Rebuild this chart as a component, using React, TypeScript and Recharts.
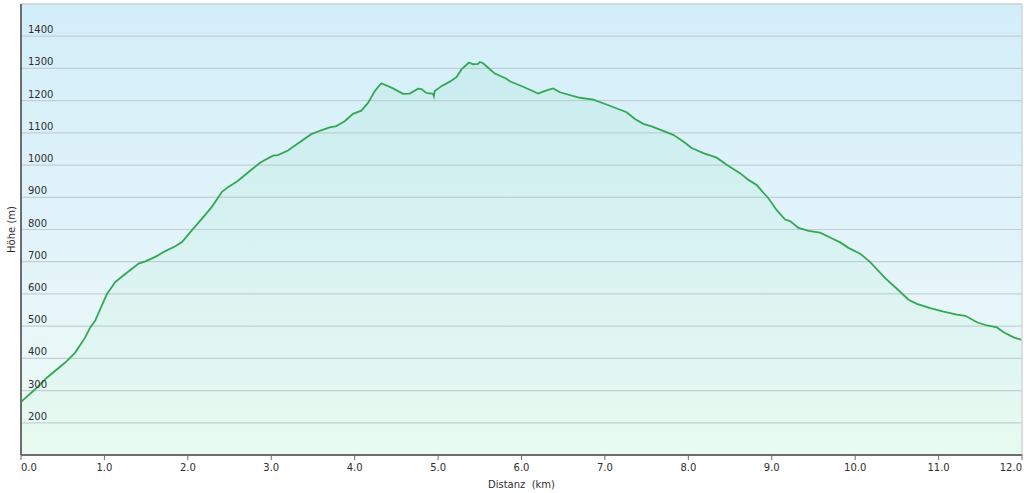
import React from 'react';
import { AreaChart, Area, XAxis, YAxis, CartesianGrid, ReferenceLine } from 'recharts';

const distanceKm = [
  0.0, 0.17, 0.31, 0.53, 0.65, 0.77, 0.83, 0.89, 1.03, 1.13, 1.23, 1.33, 1.41, 1.49, 1.61, 1.73, 1.85, 1.93,
  2.05, 2.17, 2.29, 2.41, 2.49, 2.59, 2.75, 2.87, 3.02, 3.08, 3.2, 3.34, 3.48, 3.6, 3.7, 3.78, 3.88, 3.98,
  4.08, 4.16, 4.24, 4.28, 4.32, 4.46, 4.58, 4.66, 4.76, 4.8, 4.86, 4.94, 4.95, 4.96, 5.04, 5.14, 5.22, 5.28,
  5.37, 5.42, 5.48, 5.5, 5.54, 5.6, 5.68, 5.82, 5.86, 6.02, 6.2, 6.3, 6.38, 6.46, 6.7, 6.86, 7.02, 7.26,
  7.36, 7.46, 7.56, 7.66, 7.82, 7.94, 8.04, 8.18, 8.34, 8.46, 8.62, 8.72, 8.82, 8.9, 8.96, 9.06, 9.16, 9.22,
  9.32, 9.44, 9.58, 9.7, 9.82, 9.92, 10.06, 10.18, 10.36, 10.5, 10.64, 10.74, 10.9, 11.06, 11.22, 11.32,
  11.46, 11.58, 11.7, 11.78, 11.9, 12.0,
];

const elevationM = [
  265, 304, 340, 387, 418, 465, 496, 517, 600, 637, 658, 678, 694, 701, 715, 733, 748, 761,
  798, 834, 871, 917, 933, 949, 983, 1008, 1029, 1031, 1045, 1071, 1096, 1108, 1117, 1121, 1136, 1159,
  1169, 1193, 1229, 1242, 1254, 1238, 1221, 1222, 1237, 1236, 1224, 1221, 1214, 1230, 1245, 1259, 1273, 1297,
  1318, 1313, 1314, 1320, 1316, 1302, 1284, 1268, 1260, 1243, 1222, 1232, 1238, 1226, 1209, 1203, 1188, 1164,
  1143, 1128, 1120, 1110, 1094, 1073, 1053, 1037, 1023, 1001, 975, 954, 938, 914, 897, 860, 831, 826,
  805, 796, 790, 775, 760, 743, 725, 699, 649, 616, 582, 569, 556, 545, 536, 532,
  512, 502, 496, 481, 465, 457,
];

const xTicks = [0, 1, 2, 3, 4, 5, 6, 7, 8, 9, 10, 11, 12];
const yTicks = [200, 300, 400, 500, 600, 700, 800, 900, 1000, 1100, 1200, 1300, 1400];

const data = distanceKm.map((km, i) => ({ km, hoehe: elevationM[i] }));

const FONT = '"DejaVu Sans", Verdana, sans-serif';
const TEXT = '#2e2e2e';

const XTick = (props: any) => {
  const { x, y, payload } = props;
  let anchor: 'start' | 'middle' | 'end' = 'middle';
  if (payload.value === xTicks[0]) anchor = 'start';
  if (payload.value === xTicks[xTicks.length - 1]) anchor = 'end';
  return (
    <text x={x} y={y} dy="0.71em" textAnchor={anchor} fontSize={10} fill={TEXT} fontFamily={FONT}>
      {Number(payload.value).toFixed(1)}
    </text>
  );
};

const YTick = (props: any) => {
  const { y, payload } = props;
  return (
    <text x={28} y={y - 3} textAnchor="start" fontSize={10} fill={TEXT} fontFamily={FONT}>
      {payload.value}
    </text>
  );
};

const XLabel = (props: any) => {
  const { viewBox } = props;
  return (
    <text
      x={viewBox.x + viewBox.width / 2}
      y={viewBox.y + viewBox.height - 5}
      textAnchor="middle"
      fontSize={10}
      fill={TEXT}
      fontFamily={FONT}
      style={{ whiteSpace: 'pre' }}
    >
      {'Distanz  (km)'}
    </text>
  );
};

const YLabel = (props: any) => {
  const { viewBox } = props;
  const cx = 15;
  const cy = viewBox.y + viewBox.height / 2;
  return (
    <text
      x={cx}
      y={cy}
      transform={`rotate(-90, ${cx}, ${cy})`}
      textAnchor="middle"
      fontSize={10}
      fill={TEXT}
      fontFamily={FONT}
    >
      Höhe (m)
    </text>
  );
};

const App = () => {
  return (
    <div style={{ position: 'absolute', left: 0, top: 0, width: 1024, height: 493, background: '#fff' }}>
      <AreaChart width={1024} height={493} data={data} margin={{ top: 4, right: 2, left: 0, bottom: 0 }}>
        <defs>
          <linearGradient id="plotBg" x1="0" y1="0" x2="0" y2="1">
            <stop offset="0%" stopColor="#d2eef9" />
            <stop offset="55%" stopColor="#e3f4fa" />
            <stop offset="100%" stopColor="#effcf5" />
          </linearGradient>
          <linearGradient id="areaFill" x1="0" y1="0" x2="0" y2="1">
            <stop offset="0%" stopColor="#6ad8a0" stopOpacity={0.12} />
            <stop offset="100%" stopColor="#9aeab8" stopOpacity={0.08} />
          </linearGradient>
        </defs>
        <CartesianGrid
          vertical={false}
          stroke="#c3cfd5"
          strokeWidth={1.2}
          fill="url(#plotBg)"
          fillOpacity={1}
        />
        <XAxis
          type="number"
          dataKey="km"
          domain={[0, 12]}
          ticks={xTicks}
          interval={0}
          allowDataOverflow
          height={38}
          tickSize={5}
          tickMargin={4}
          stroke="#6d6d6d"
          tickLine={{ stroke: '#6d6d6d' }}
          axisLine={{ stroke: '#6d6d6d', strokeWidth: 2 }}
          tick={<XTick />}
          label={<XLabel />}
        />
        <YAxis
          type="number"
          domain={[100, 1500]}
          ticks={yTicks}
          interval={0}
          allowDataOverflow
          width={21}
          tickSize={0}
          tickMargin={0}
          tickLine={false}
          axisLine={{ stroke: '#6d6d6d', strokeWidth: 2 }}
          tick={<YTick />}
          label={<YLabel />}
        />
        <ReferenceLine y={1500} stroke="#d0d6d9" strokeWidth={1.5} />
        <ReferenceLine x={12} stroke="#d0d6d9" strokeWidth={1.5} />
        <Area
          type="linear"
          dataKey="hoehe"
          stroke="#33a852"
          strokeWidth={1.8}
          fill="url(#areaFill)"
          fillOpacity={1}
          dot={false}
          activeDot={false}
          isAnimationActive={false}
        />
      </AreaChart>
    </div>
  );
};

export default App;
